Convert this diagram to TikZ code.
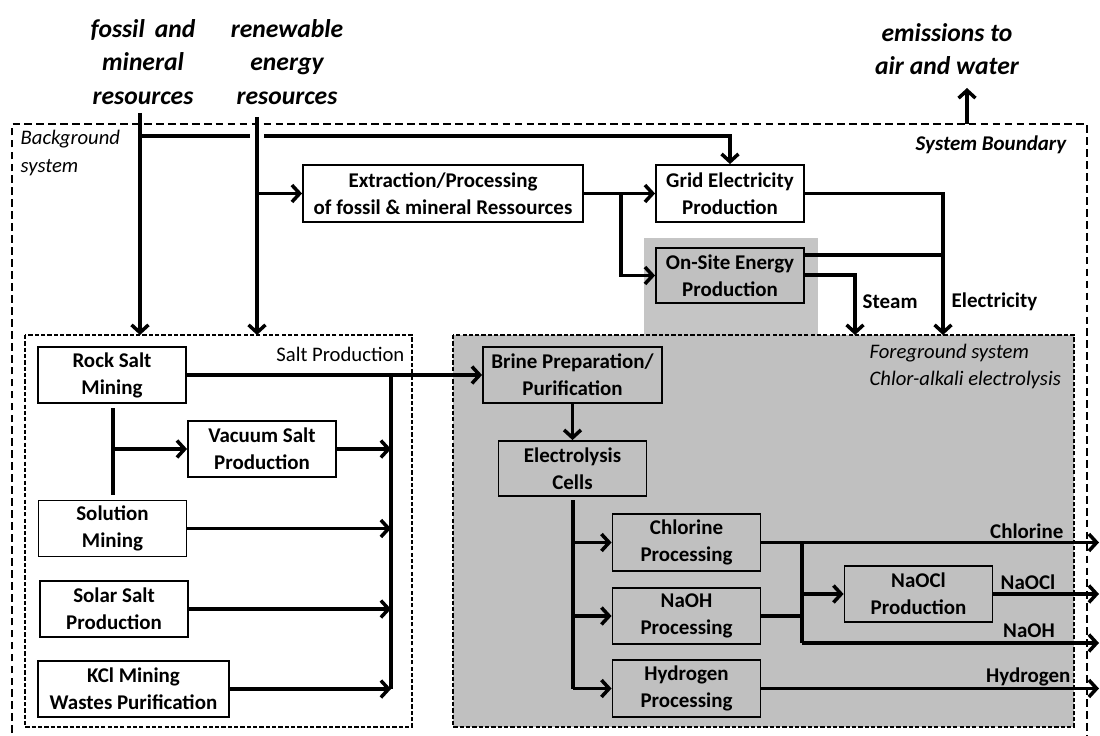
\documentclass[tikz,border=0pt]{standalone}
\usepackage{fontspec}
\setmainfont{Carlito}
\usepackage{tikz}
\usetikzlibrary{arrows.meta}
\definecolor{fggrey}{RGB}{192,192,192}
\definecolor{bdgrey}{RGB}{197,197,197}

\begin{document}
\begin{tikzpicture}[
        x=0.025cm, y=-0.025cm,
        >={Straight Barb[length=5.5pt,width=12pt]},
        box/.style={draw, line width=1.3pt, fill=white, align=center, inner sep=0pt,
            minimum width=3.7cm, minimum height=1.4cm,
            font=\fontsize{14.9}{19.2}\selectfont\bfseries},
        greybox/.style={box, fill=fggrey},
        flow/.style={line width=2.5pt},
        bound/.style={line width=0.9pt, dash pattern=on 5.5pt off 3pt},
        subbound/.style={line width=0.9pt, dash pattern=on 3pt off 1.5pt},
        source/.style={align=center, font=\fontsize{18.2}{24}\selectfont\bfseries\itshape},
        tag/.style={inner sep=1pt, font=\fontsize{14.9}{19.2}\selectfont\bfseries},
        note/.style={inner sep=1pt, align=left, font=\fontsize{14.7}{19.2}\selectfont\itshape},
    ]

    \useasboundingbox (0,0) rectangle (1100,736);

    %Draw the grey areas
    \fill [fggrey] (453,335) rectangle (1074,727);
    \fill [bdgrey] (644,238) rectangle (818,335);

    %Draw the boundaries
    \draw [bound] (12,745) -- (12,124) -- (1087,124) -- (1087,745);
    \draw [subbound] (25,335) rectangle (412,727);
    \draw [subbound] (453,335) rectangle (1074,727);
    \coordinate (top) at (0,335);

    %Draw the boundary labels
    \node [note, anchor=west, font=\fontsize{14.7}{20}\selectfont\itshape] (bgsys) at (19,153) {Background\\system};
    \node [note, anchor=east, font=\fontsize{14.9}{19.2}\selectfont\bfseries\itshape] (sysb) at (1068,145) {System Boundary};
    \node [note, anchor=east, font=\fontsize{14.7}{19.2}\selectfont] (saltsys) at (406,354) {Salt Production};
    \node [note, anchor=west] (fgsys) at (868,366) {Foreground system\\Chlor-alkali electrolysis};

    %Draw the resources and emissions
    \node [source] (fossil) at (143,62) {fossil\, and\\mineral\\resources};
    \node [source] (renew) at (287,62) {renewable\\energy\\resources};
    \node [source] (emis) at (947,49) {emissions to\\air and water};
    \coordinate (fos) at (140,113);
    \coordinate (ren) at (257,117);
    \coordinate (emit) at (967,124);
    \coordinate (emitend) at (967,88);

    %Draw the background processes
    \node [box, minimum width=7cm, minimum height=1.425cm] (extract) at (443,193.5) {Extraction/Processing\\of fossil \& mineral Ressources};
    \node [box, minimum height=1.425cm] (grid) at (730,193.5) {Grid Electricity\\Production};
    \node [greybox, minimum height=1.375cm] (onsite) at (730,275.5) {On-Site Energy\\Production};

    %Draw the salt production processes
    \node [box] (rocksalt) at (112,375) {Rock Salt\\Mining};
    \node [box] (vacuum) at (262,449) {Vacuum Salt\\Production};
    \node [box] (solution) at (112.5,528.5) {Solution\\Mining};
    \node [box] (solar) at (114,609) {Solar Salt\\Production};
    \node [box, minimum width=4.775cm] (kcl) at (133.5,689) {KCl Mining\\Wastes Purification};

    %Draw the foreground processes
    \node [greybox, minimum width=4.475cm] (brine) at (572.5,375) {Brine Preparation/\\Purification};
    \node [greybox, minimum height=1.375cm] (cells) at (572.5,468.5) {Electrolysis\\Cells};
    \node [greybox, minimum height=1.425cm] (chlorine) at (686.5,542.5) {Chlorine\\Processing};
    \node [greybox] (naoh) at (686.5,616) {NaOH\\Processing};
    \node [greybox, minimum height=1.425cm] (hydrogen) at (686.5,688.5) {Hydrogen\\Processing};
    \node [greybox] (naocl) at (918.5,594) {NaOCl\\Production};

    %Draw the resource flows
    \draw [flow,->] (fos) -- (fos |- top);
    \draw [flow,->] (ren) -- (ren |- top);
    \draw [flow] (140,136) -- (250,136);
    \draw [flow,->] (264,136) -| (grid.north);
    \draw [flow,->] (ren |- extract.west) -- (extract.west);
    \draw [flow,->] (emit) -- (emitend);

    %Draw the energy flows
    \draw [flow,->] (extract.east) -- (grid.west);
    \draw [flow,->] (621,193.5) |- (onsite.west);
    \draw [flow,->] (grid.east) -| (943,335);
    \draw [flow] (onsite.east |- 0,255) -- (943,255);
    \draw [flow,->] (onsite.east |- 0,275) -| (855,335);
    \node [tag, anchor=west] (steam) at (861,302) {Steam};
    \node [tag, anchor=west] (elec) at (950,302) {Electricity};

    %Draw the salt flows
    \draw [flow,->] (rocksalt.east) -- (brine.west);
    \draw [flow] (391,375) -- (391,689);
    \draw [flow] (113,408) -- (113,495);
    \draw [flow,->] (113,449) -- (vacuum.west);
    \draw [flow,->] (vacuum.east) -- (391,449);
    \draw [flow,->] (solution.east) -- (391,528.5);
    \draw [flow,->] (solar.east) -- (391,609);
    \draw [flow,->] (kcl.east) -- (391,689);

    %Draw the chlor-alkali flows
    \draw [flow,->] (brine.south) -- (cells.north);
    \draw [flow] (573,500) -- (573,688.5);
    \draw [flow,->] (573,542.5) -- (chlorine.west);
    \draw [flow,->] (573,616) -- (naoh.west);
    \draw [flow,->] (573,688.5) -- (hydrogen.west);
    \draw [flow,->] (chlorine.east) -- (1099,542.5);
    \draw [flow] (802,542.5) -- (802,643);
    \draw [flow] (naoh.east) -- (802,616);
    \draw [flow,->] (802,594) -- (naocl.west);
    \draw [flow,->] (naocl.east) -- (1099,594);
    \draw [flow,->] (802,643) -- (1099,643);
    \draw [flow,->] (hydrogen.east) -- (1099,688.5);

    %Draw the product labels
    \node [tag, anchor=east] (cl) at (1065,531) {Chlorine};
    \node [tag] (ocl) at (1028,582) {NaOCl};
    \node [tag] (oh) at (1029,631) {NaOH};
    \node [tag, anchor=east] (h2) at (1072,677) {Hydrogen};
\end{tikzpicture}
\end{document}
